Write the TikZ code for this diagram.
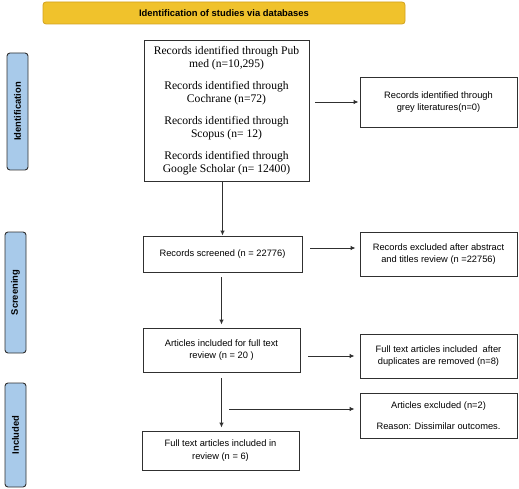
\documentclass[tikz,border=0pt]{standalone}
\usepackage{fontspec}
\setmainfont{Liberation Serif}
\newfontfamily\arialf{Liberation Sans}
\usetikzlibrary{arrows.meta}
\definecolor{hdrfill}{HTML}{F0C22C}
\definecolor{hdrdraw}{HTML}{D2A21E}
\definecolor{lblfill}{HTML}{A8CAEA}
\definecolor{boxdraw}{HTML}{303030}
\tikzset{
  box/.style={draw=boxdraw, line width=0.9pt, fill=white, align=center, inner sep=2pt,
    font=\arialf\fontsize{9.3}{12.5}\selectfont},
  serifbox/.style={draw=boxdraw, line width=0.9pt, fill=white, align=center, inner sep=2pt,
    font=\fontsize{11.6}{13}\selectfont},
  phase/.style={draw=boxdraw, line width=0.9pt, fill=lblfill, rounded corners=3pt,
    font=\arialf\bfseries\fontsize{9.4}{11}\selectfont},
  hdr/.style={draw=hdrdraw, line width=0.8pt, fill=hdrfill, rounded corners=3pt,
    font=\arialf\bfseries\fontsize{9.4}{11}\selectfont},
  arr/.style={line width=0.9pt, draw=boxdraw, -{Latex[length=5pt,width=4.5pt]}},
  ln/.style={line width=0.9pt, draw=boxdraw}
}
\begin{document}
\begin{tikzpicture}[x=1pt,y=-1pt]
\useasboundingbox (0,0) rectangle (519,489);
\node[hdr, minimum width=362pt, minimum height=22pt] (hdr) at (224,13) {Identification of studies via databases};
\node[phase, minimum width=117pt, minimum height=21pt, rotate=90] (ident) at (17.5,111.5) {Identification};
\node[phase, minimum width=121pt, minimum height=21pt, rotate=90] (scr) at (15.5,292.5) {Screening};
\node[phase, minimum width=104pt, minimum height=21pt, rotate=90] (incl) at (15.5,435) {Included};

\node[serifbox, minimum width=165pt, minimum height=141pt] (main) at (226.5,110.5)
 {Records identified through Pub\\ med (n=10,295)\\[9pt]
  Records identified through\\ Cochrane (n=72)\\[9pt]
  Records identified through\\ Scopus (n= 12)\\[9pt]
  Records identified through\\ Google Scholar (n= 12400)};
\node[box, minimum width=157pt, minimum height=50pt] (grey) at (438.5,102)
 {Records identified through\\ grey literatures(n=0)};
\node[box, minimum width=159pt, minimum height=36pt] (screened) at (222.5,254)
 {Records screened (n = 22776)};
\node[box, minimum width=157pt, minimum height=44pt] (excl) at (438.5,254)
 {Records excluded after abstract\\ and titles review (n =22756)};
\node[box, minimum width=157pt, minimum height=44pt] (art) at (221.5,350)
 {Articles included for full text\\ review (n = 20 )};
\node[box, minimum width=157pt, minimum height=44pt] (dup) at (438.5,356)
 {Full text articles included\ \ after\\ duplicates are removed (n=8)};
\node[box, minimum width=157pt, minimum height=45pt] (artexc) at (438.5,415.5)
 {Articles excluded (n=2)\\[9pt] Reason: Dissimilar outcomes.};
\node[box, minimum width=157pt, minimum height=39pt] (final) at (220.5,450.5)
 {Full text articles included in\\ review (n = 6)};

\draw[arr] ([xshift=6pt]main.east |- grey.west) -- ([xshift=-1pt]grey.west);
\draw[arr] (main.south -| screened.north) -- (screened.north);
\draw[arr] ([xshift=8pt,yshift=6pt]screened.east) -- ([xshift=-4pt,yshift=6pt]excl.west |- screened.east);
\draw[arr] ([yshift=-5pt]screened.south -| art.north) -- ([yshift=3pt]art.north);
\draw[arr] ([xshift=8pt,yshift=-6pt]art.east) -- ([xshift=-5pt,yshift=-6pt]dup.west |- art.east);
\draw[arr] ([yshift=-6pt]art.south) -- ([yshift=3pt]final.north -| art.south);
\coordinate (br) at (229,409);
\draw[arr] (br) -- ([xshift=-5pt]br -| artexc.west);
\end{tikzpicture}
\end{document}
